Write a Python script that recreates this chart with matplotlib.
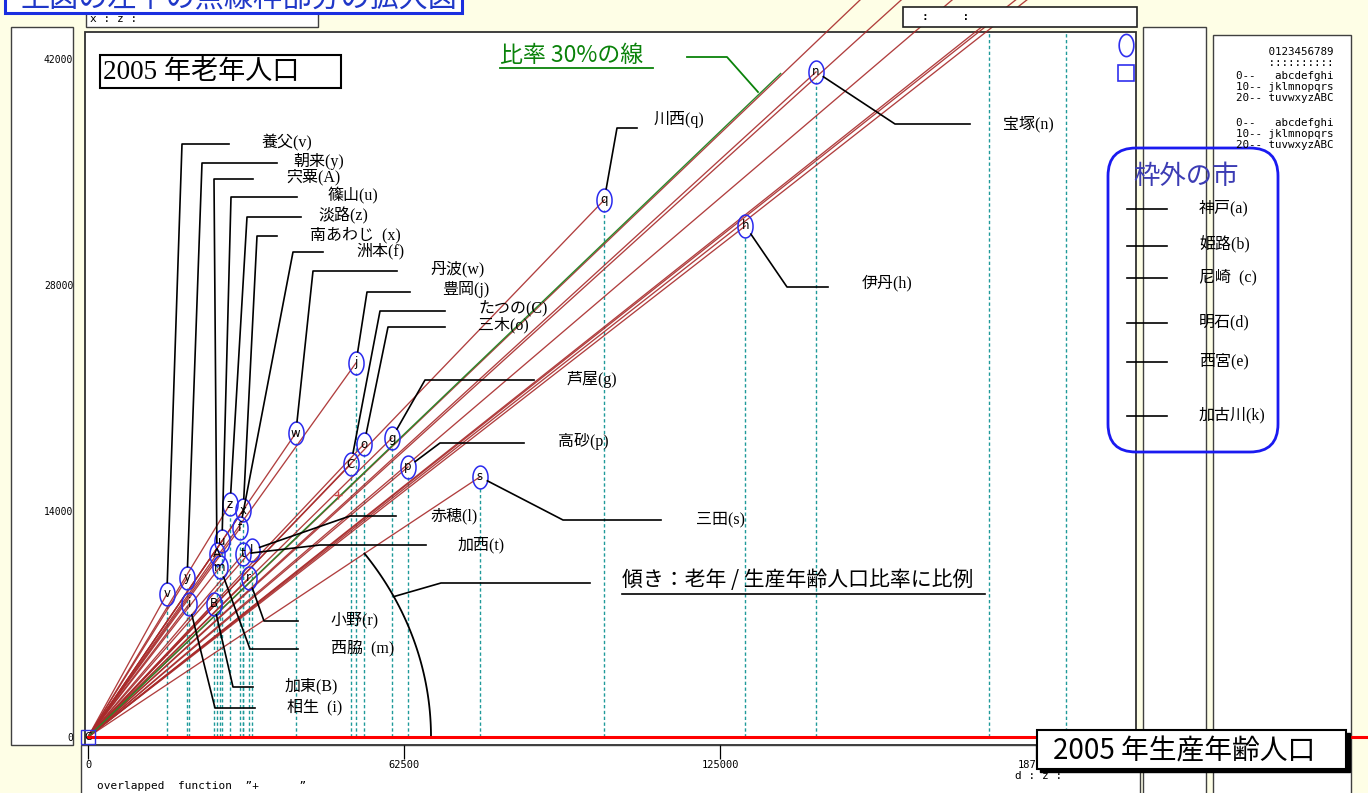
import numpy as np
import matplotlib.pyplot as plt
from matplotlib.patches import Rectangle, FancyBboxPatch
from matplotlib.lines import Line2D
from matplotlib.path import Path
from matplotlib.transforms import IdentityTransform

W, H = 1368, 793
SERIF_JP = ['Liberation Serif', 'Noto Sans CJK JP']
GOTHIC = ['Noto Sans CJK JP', 'DejaVu Sans']
MONO = ['DejaVu Sans Mono']

# 2005: working-age population (15-64) and elderly population (65+) per city
codes = ['v', 'y', 'i', 'B', 'A', 'm', 'u', 'z', 'x', 'f', 't', 'l', 'r',
         'w', 'j', 'C', 'o', 'g', 'p', 's', 'q', 'h', 'n']
labels = ['養父(v)', '朝来(y)', '相生  (i)', '加東(B)', '宍粟(A)', '西脇  (m)',
          '篠山(u)', '淡路(z)', '南あわじ  (x)', '洲本(f)', '加西(t)', '赤穂(l)',
          '小野(r)', '丹波(w)', '豊岡(j)', 'たつの(C)', '三木(o)', '芦屋(g)',
          '高砂(p)', '三田(s)', '川西(q)', '伊丹(h)', '宝塚(n)']
working = [15600, 19600, 20000, 24900, 25500, 26100, 26500, 28100, 30700,
           30100, 30700, 32400, 31800, 41100, 53000, 52000, 54600, 60100,
           63300, 77500, 102100, 130000, 144000]
elderly = [8860, 9850, 8240, 8240, 11340, 10530, 12140, 14430, 14060,
           12950, 11340, 11580, 9850, 18830, 23170, 16910, 18150, 18520,
           16730, 16110, 33270, 31660, 41200]

# cities outside the enlarged frame
out_codes = ['a', 'b', 'c', 'd', 'e', 'k']
out_labels = ['神戸(a)', '姫路(b)', '尼崎  (c)', '明石(d)', '西宮(e)', '加古川(k)']
out_working = [1000000, 350000, 305000, 193400, 316000, 178300]
out_elderly = [299000, 93500, 75900, 54900, 77700, 44200]

ratio_line = 0.30
ratio_line_end = 137000
overlap_point = (49450, 14990)

xticks = [0, 62500, 125000, 187500]
yticks = [0, 14000, 28000, 42000]

# leader layout (screen pixels): corner, end of horizontal, text position
leaders = {
    'v': ((182, 144), (229, 144), (262, 143)),
    'y': ((202, 163), (277, 163), (293, 162)),
    'A': ((214, 179), (253, 179), (286, 177)),
    'u': ((231, 197), (297, 197), (328, 196)),
    'z': ((247, 217), (301, 217), (318, 216)),
    'x': ((257, 236), (277, 236), (310, 235)),
    'f': ((293, 252), (323, 252), (356, 251)),
    'w': ((313, 271), (397, 271), (430, 269)),
    'j': ((367, 292), (410, 292), (442, 290)),
    'C': ((380, 311), (445, 311), (478, 309)),
    'o': ((388, 327), (445, 327), (478, 325)),
    'g': ((425, 380), (534, 380), (567, 379)),
    'p': ((440, 443), (524, 443), (558, 442)),
    's': ((563, 520), (661, 520), (696, 519)),
    'l': ((350, 516), (396, 516), (430, 516)),
    't': ((320, 545), (426, 545), (458, 545)),
    'r': ((264, 621), (298, 621), (331, 620)),
    'm': ((250, 649), (298, 649), (331, 648)),
    'B': ((233, 687), (253, 687), (285, 686)),
    'i': ((215, 708), (255, 708), (287, 707)),
    'q': ((617, 128), (637, 128), (654, 119)),
    'n': ((895, 124), (970, 124), (1003, 124)),
    'h': ((787, 287), (828, 287), (862, 283)),
}
out_rows = [209, 246, 278, 323, 362, 416]

fig = plt.figure(figsize=(W / 100, H / 100), dpi=100)
fig.patch.set_facecolor('#fefee6')
ID = IdentityTransform()


def rect(x0, y0, x1, y1, fc='white', ec='#404040', lw=1.0, z=1):
    fig.add_artist(Rectangle((x0, H - y1), x1 - x0, y1 - y0, transform=ID,
                             facecolor=fc, edgecolor=ec, linewidth=lw, zorder=z))


def txt(x, y, s, z=6, **kw):
    kw.setdefault('va', 'center')
    fig.text(x, H - y, s, transform=ID, zorder=z, **kw)


def poly(xs, ys, z=3, **kw):
    fig.add_artist(Line2D(xs, [H - v for v in ys], transform=ID, zorder=z, **kw))


# window panels
rect(11, 27, 73, 745)
rect(86, 10, 318, 27)
rect(85, 32, 1136, 745, ec='#303030', lw=1.3)
rect(81, 745, 1140, 800)
rect(1143, 27, 1206, 800)
rect(1213, 35, 1351, 800)
rect(903, 7, 1137, 27, ec='#202020', lw=1.2, z=4)
rect(5, -30, 462, 13, ec='#1a2ee0', lw=2.2, z=4)
txt(20, -1, '上図の左下の点線枠部分の拡大図', color='#2038c8', fontsize=21,
    family=GOTHIC)
txt(90, 19, 'x : z :', fontsize=8, family=MONO)
txt(922, 17, ':     :', fontsize=8, family=MONO, weight='bold')

# data axes: origin at pixel (88, 737)
SX = 62500 / 316
SY = 42000 / 678
X0, Y0 = 88, 737
L, R, T, B = 85, 1136, 0, 745
ax = fig.add_axes([L / W, 1 - B / H, (R - L) / W, (B - T) / H])
ax.set_xlim((L - X0) * SX, (R - X0) * SX)
ax.set_ylim((Y0 - B) * SY, (Y0 - T) * SY)
ax.set_facecolor('none')
ax.set_zorder(2)
for sp in ax.spines.values():
    sp.set_visible(False)
ax.set_xticks(xticks, labels=[str(v) for v in xticks])
ax.set_yticks(yticks, labels=[str(v) for v in yticks])
ax.tick_params(axis='x', direction='out', length=10, width=0.9, pad=0.5,
               labelsize=7.5)
ax.tick_params(axis='y', length=0, pad=8.5, labelsize=7)
for lab in ax.get_xticklabels() + ax.get_yticklabels():
    lab.set_fontfamily(MONO)

panel_top = (Y0 - 32) * SY
work = np.array(working, float)
eld = np.array(elderly, float)
owork = np.array(out_working, float)
oeld = np.array(out_elderly, float)

# rays from the origin to every city
for xv, yv in zip(np.r_[work, owork], np.r_[eld, oeld]):
    ax.plot([0, xv], [0, yv], color='#a82a2a', lw=0.95, alpha=0.9, zorder=2)
ax.plot([0, ratio_line_end], [0, ratio_line * ratio_line_end],
        color='#2a862a', lw=1.0, zorder=3)

# dashed drop lines
ax.vlines(work, 0, eld - 10 * SY, colors='#1f9a9a', linestyles=(0, (2.4, 1.8)),
          lw=1.0, zorder=1)
inside = owork <= (R - X0) * SX
ax.vlines(owork[inside], 0, np.minimum(oeld[inside], panel_top),
          colors='#1f9a9a', linestyles=(0, (2.4, 1.8)), lw=1.0, zorder=1)

# ellipse markers with letters
t = np.linspace(0, 2 * np.pi, 41)
ell = Path(np.column_stack([0.66 * np.cos(t), np.sin(t)]))
ax.plot(work, eld, ls='none', marker=ell, ms=16.5, mfc='none', mec='#2a2aee',
        mew=1.1, zorder=4)
for c, xv, yv in zip(codes, work, eld):
    ax.text(xv, yv, c, ha='center', va='center', fontsize=8.5,
            family='DejaVu Sans', zorder=5)

ax.plot([overlap_point[0]], [overlap_point[1]], marker='+', color='#d04848',
        ms=6, mew=1, zorder=4)

# origin marker
ax.plot([0], [0], marker='s', ms=10, mfc='none', mec='#3030e0', mew=1,
        clip_on=False, zorder=5)
ax.text(0, 0, 'C', ha='center', va='center', fontsize=7.5, zorder=5)

# zero line of elderly axis
ax.plot([0, (W - X0) * SX], [0, 0], color='#ff0000', lw=2.2, clip_on=False,
        zorder=4)

# slope arc from the lowest ray down to the x axis
A_arc, B_arc = 343 * SX, 310 * SY
th_end = np.arctan((eld / work).min() * A_arc / B_arc)
th = np.linspace(0, th_end, 80)
ax.plot(A_arc * np.cos(th), B_arc * np.sin(th), color='k', lw=1.3, zorder=3)

# leader lines and labels
for c, lab, xv, yv in zip(codes, labels, work, eld):
    corner, end, tpos = leaders[c]
    px, py = ax.transData.transform((xv, yv))
    cx, cy = corner[0], H - corner[1]
    d = np.array([cx - px, cy - py])
    d /= np.hypot(*d)
    gap = 1 / np.hypot(d[0] / 8, d[1] / 11.5)
    sx_, sy_ = px + d[0] * gap, py + d[1] * gap
    poly([sx_, cx, end[0]], [H - sy_, corner[1], end[1]], color='k', lw=1.2)
    txt(tpos[0], tpos[1], lab, fontsize=11.5, family=SERIF_JP)

# slope annotation
ap = ax.transData.transform((A_arc * np.cos(0.47), B_arc * np.sin(0.47)))
poly([ap[0], 441, 590], [H - ap[1], 583, 583], color='k', lw=1.2)
txt(622, 580, '傾き：老年 / 生産年齢人口比率に比例', fontsize=15, family=GOTHIC)
poly([622, 985], [594, 594], color='k', lw=1.2)

# 30% line annotation
txt(500, 55, '比率 30%の線', fontsize=16.5, family=GOTHIC, color='#0a820a')
poly([500, 653], [68, 68], color='#0a820a', lw=1.3)
poly([687, 727, 758], [57, 57, 92], color='#0a820a', lw=1.3)

# axis titles
rect(100, 55, 341, 88, ec='black', lw=1.5, z=4)
txt(103, 72, '2005 年老年人口', fontsize=19.5, family=SERIF_JP)
rect(1040, 733, 1350, 772, fc='black', ec='black', lw=1, z=5)
rect(1037, 730, 1346, 769, ec='black', lw=1.5, z=5)
txt(1053, 751, '2005 年生産年齢人口', fontsize=20, family=GOTHIC, z=7)

txt(97, 786, 'overlapped  function  \u201d+      \u201d', fontsize=8, family=MONO)
txt(1015, 776, 'd : z :', fontsize=8, family=MONO)

# legend marks
for yy, mk, ms in [(45, ell, 16), (73, 's', 11)]:
    fig.add_artist(Line2D([1126], [H - yy], transform=ID, ls='none', marker=mk,
                          ms=ms, mfc='none', mec='#3030ee', mew=1.2, zorder=4))

# letter code legend
legend_rows = [(52, '     0123456789'), (63, '     ::::::::::'),
               (76, '0--   abcdefghi'), (87, '10-- jklmnopqrs'),
               (98, '20-- tuvwxyzABC'), (123, '0--   abcdefghi'),
               (134, '10-- jklmnopqrs'), (145, '20-- tuvwxyzABC')]
for yy, s in legend_rows:
    txt(1334, yy, s, fontsize=7.8, family=MONO, ha='right')

# cities outside the frame
fig.add_artist(FancyBboxPatch((1108, H - 452), 170, 304, transform=ID,
                              boxstyle='round,pad=0,rounding_size=28',
                              facecolor='none', edgecolor='#1a1af0', lw=2,
                              zorder=4))
txt(1133, 176, '枠外の市', fontsize=19, family=GOTHIC, color='#3c3cb4')
for yy, lab in zip(out_rows, out_labels):
    poly([1127, 1167], [yy, yy], color='k', lw=1.2)
    txt(1199, yy - 1, lab, fontsize=11.5, family=SERIF_JP)

fig.savefig('out.png', dpi=100, facecolor=fig.get_facecolor())
